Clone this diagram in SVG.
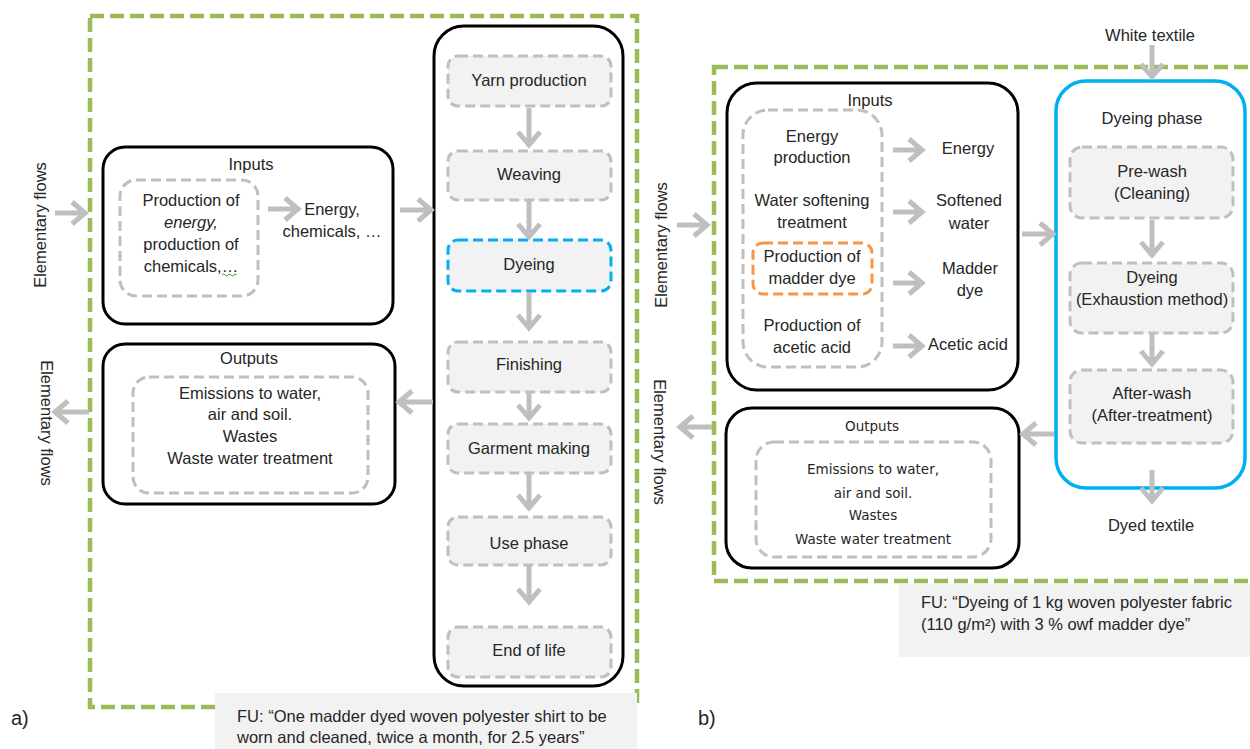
<svg xmlns="http://www.w3.org/2000/svg" width="1250" height="749" viewBox="0 0 1250 749">
<style>
text{font-family:"Liberation Sans",Arial,sans-serif;font-size:16.5px;fill:#262626;text-anchor:middle}
.s{font-family:"DejaVu Sans","Liberation Sans",sans-serif;font-size:13.5px}
.lab{font-size:20px;text-anchor:start}
.fu{text-anchor:start}
.grn{fill:none;stroke:#9bbb59;stroke-width:4.5;stroke-dasharray:14 6}
.blk{fill:#fff;stroke:#000;stroke-width:3}
.gd{fill:none;stroke:#bfbfbf;stroke-width:3;stroke-dasharray:10 5}
.step{fill:#f2f2f2;stroke:#bfbfbf;stroke-width:3;stroke-dasharray:10 5}
.blue{fill:#f2f2f2;stroke:#00b0f0;stroke-width:3;stroke-dasharray:10 5}
.org{fill:none;stroke:#f79646;stroke-width:3;stroke-dasharray:10 5}
.arr{fill:none;stroke:#bfbfbf;stroke-width:5;stroke-linejoin:miter}
.fubox{fill:#f2f2f2}
</style>
<rect width="1250" height="749" fill="#fff"/>

<!-- Panel a -->
<g id="boundary-a">
<rect class="grn" x="90" y="16" width="547" height="691"/>
</g>
<g id="fu-a">
<rect class="fubox" x="215" y="693" width="422" height="56"/>
<text class="fu" x="237" y="722">FU: “One madder dyed woven polyester shirt to be</text>
<text class="fu" x="237" y="743">worn and cleaned, twice a month, for 2.5 years”</text>
</g>
<text class="lab" x="11" y="725">a)</text>
<text transform="rotate(-90 46 225)" x="46" y="225">Elementary flows</text>
<text transform="rotate(90 41 423)" x="41" y="423">Elementary flows</text>

<g id="inputs-a">
<rect class="blk" x="103" y="147" width="290" height="177" rx="22"/>
<text x="251" y="170">Inputs</text>
<rect class="gd" x="120" y="180" width="138" height="116" rx="16"/>
<text x="191" y="206">Production of</text>
<text x="191" y="228" font-style="italic">energy,</text>
<text x="191" y="250">production of</text>
<text x="191" y="272">chemicals,…</text>
<path d="M222 275 q1.5 -2 3 0 t3 0 t3 0 t3 0 t3 0" fill="none" stroke="#3a9a3a" stroke-width="1"/>
<text x="332" y="215">Energy,</text>
<text x="332" y="237">chemicals, …</text>
</g>

<g id="outputs-a">
<rect class="blk" x="103" y="344" width="292" height="160" rx="22"/>
<text x="249" y="364">Outputs</text>
<rect class="gd" x="133" y="377" width="235" height="116" rx="16"/>
<text x="250" y="399">Emissions to water,</text>
<text x="250" y="420">air and soil.</text>
<text x="250" y="442">Wastes</text>
<text x="250" y="464">Waste water treatment</text>
</g>

<g id="lifecycle-a">
<rect class="blk" x="434" y="26" width="189" height="660" rx="30"/>
</g>
<g id="yarn"><rect class="step" x="448" y="56" width="163" height="50" rx="10"/><text x="529" y="86">Yarn production</text></g>
<g id="weaving"><rect class="step" x="448" y="151" width="163" height="49" rx="10"/><text x="529" y="180">Weaving</text></g>
<g id="dyeing-a"><rect class="blue" x="448" y="240" width="163" height="51" rx="10"/><text x="529" y="270">Dyeing</text></g>
<g id="finishing"><rect class="step" x="448" y="342" width="163" height="50" rx="10"/><text x="529" y="370">Finishing</text></g>
<g id="garment"><rect class="step" x="448" y="424" width="163" height="49" rx="10"/><text x="529" y="454">Garment making</text></g>
<g id="use"><rect class="step" x="448" y="517" width="163" height="48" rx="10"/><text x="529" y="549">Use phase</text></g>
<g id="eol"><rect class="step" x="448" y="627" width="163" height="50" rx="10"/><text x="529" y="656">End of life</text></g>

<!-- Panel b -->
<g id="boundary-b">
<rect class="grn" x="714" y="67" width="600" height="514"/>
</g>
<g id="fu-b">
<rect class="fubox" x="899" y="584" width="351" height="73"/>
<text class="fu" x="921" y="608">FU: “Dyeing of 1 kg woven polyester fabric</text>
<text class="fu" x="921" y="630">(110 g/m²) with 3 % owf madder dye”</text>
</g>
<text class="lab" x="698" y="725">b)</text>
<text transform="rotate(-90 667 245)" x="667" y="245">Elementary flows</text>
<text transform="rotate(90 654 442)" x="654" y="442">Elementary flows</text>
<text x="1150" y="41">White textile</text>
<text x="1151" y="531">Dyed textile</text>

<g id="inputs-b">
<rect class="blk" x="727" y="83" width="291" height="307" rx="30"/>
<rect class="gd" x="743" y="110" width="139" height="257" rx="25"/>
<text x="870" y="106">Inputs</text>
<text x="812" y="142">Energy</text>
<text x="812" y="163">production</text>
<text x="812" y="206">Water softening</text>
<text x="812" y="228">treatment</text>
<rect class="org" x="753" y="243" width="119" height="51" rx="10"/>
<text x="812" y="262">Production of</text>
<text x="812" y="284">madder dye</text>
<text x="812" y="331">Production of</text>
<text x="812" y="353">acetic acid</text>
<text x="968" y="154">Energy</text>
<text x="969" y="206">Softened</text>
<text x="969" y="229">water</text>
<text x="970" y="274">Madder</text>
<text x="970" y="296">dye</text>
<text x="968" y="350">Acetic acid</text>
</g>

<g id="outputs-b">
<rect class="blk" x="726" y="408" width="293" height="160" rx="26"/>
<text class="s" x="872" y="431">Outputs</text>
<rect class="gd" x="756" y="442" width="235" height="115" rx="18"/>
<text class="s" x="873" y="474">Emissions to water,</text>
<text class="s" x="873" y="498">air and soil.</text>
<text class="s" x="873" y="520">Wastes</text>
<text class="s" x="873" y="544">Waste water treatment</text>
</g>

<g id="dyeing-phase">
<rect x="1056" y="81" width="189" height="407" rx="30" fill="#fff" stroke="#00b0f0" stroke-width="3.5"/>
<text x="1152" y="124">Dyeing phase</text>
</g>
<g id="prewash"><rect class="step" x="1070" y="147" width="163" height="71" rx="12"/><text x="1152" y="177">Pre-wash</text><text x="1152" y="199">(Cleaning)</text></g>
<g id="dyeing-b"><rect class="step" x="1070" y="263" width="163" height="70" rx="12"/><text x="1152" y="283">Dyeing</text><text x="1152" y="305">(Exhaustion method)</text></g>
<g id="afterwash"><rect class="step" x="1070" y="370" width="163" height="73" rx="12"/><text x="1152" y="399">After-wash</text><text x="1152" y="421">(After-treatment)</text></g>

<g id="connectors" class="arr">
<path d="M55 213 H83 M72 202 L85 213 L72 224"/>
<path d="M268 209 H296 M285 198 L298 209 L285 220"/>
<path d="M400 210 H429 M418 199 L431 210 L418 221"/>
<path d="M433 402 H401 M412 391 L399 402 L412 413"/>
<path d="M89 412 H57 M68 401 L55 412 L68 423"/>
<path d="M529 108 V143 M518 132 L529 145 L540 132"/>
<path d="M529 200 V235 M518 224 L529 237 L540 224"/>
<path d="M529 292 V326 M518 315 L529 328 L540 315"/>
<path d="M529 393 V416 M518 405 L529 418 L540 405"/>
<path d="M529 474 V506 M518 495 L529 508 L540 495"/>
<path d="M529 566 V600 M518 589 L529 602 L540 589"/>

<path d="M677 225 H705 M694 214 L707 225 L694 236"/>
<path d="M893 150 H920 M909 139 L922 150 L909 161"/>
<path d="M893 212 H920 M909 201 L922 212 L909 223"/>
<path d="M893 283 H920 M909 272 L922 283 L909 294"/>
<path d="M893 346 H920 M909 335 L922 346 L909 357"/>
<path d="M1022 234 H1051 M1040 223 L1053 234 L1040 245"/>
<path d="M1054 434 H1025 M1036 423 L1023 434 L1036 445"/>
<path d="M712 427 H682 M693 416 L680 427 L693 438"/>
<path d="M1152 45 V75 M1141 64 L1152 77 L1163 64"/>
<path d="M1152 220 V253 M1141 242 L1152 255 L1163 242"/>
<path d="M1152 334 V362 M1141 351 L1152 364 L1163 351"/>
<path d="M1152 470 V499 M1141 488 L1152 501 L1163 488"/>
</g>
</svg>
